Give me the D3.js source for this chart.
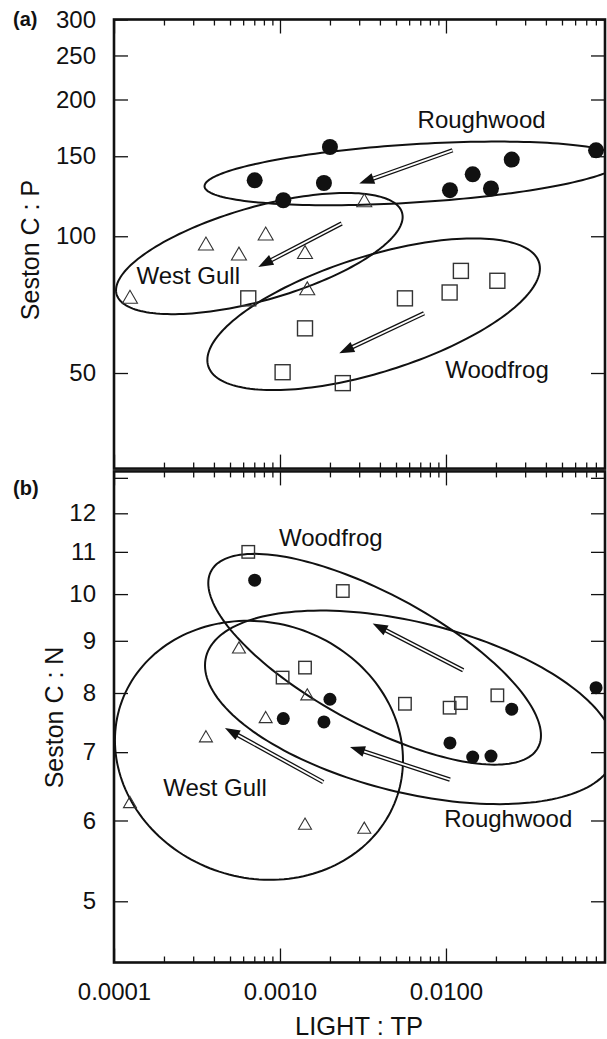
<!DOCTYPE html>
<html><head><meta charset="utf-8">
<script src="https://cdn.jsdelivr.net/npm/d3@7"></script>
<style>body{margin:0;background:#fff;}</style>
</head><body><script>
// ---------- data ----------
const lightRoughwood = [0.000704, 0.001047, 0.0020, 0.00184, 0.01057, 0.01449, 0.01867, 0.0249, 0.0802];
const cpRoughwood    = [132.8, 120.0, 157.2, 131.0, 126.3, 136.9, 127.4, 147.5, 154.6];
const cnRoughwood    = [10.32, 7.551, 7.888, 7.494, 7.147, 6.923, 6.939, 7.713, 8.097];

const lightWestGull = [0.0001248, 0.000358, 0.000566, 0.00082, 0.001415, 0.00146, 0.00322];
const cpWestGull    = [73.6, 96.4, 91.6, 101.4, 92.3, 76.8, 120.0];
const cnWestGull    = [6.255, 7.256, 8.866, 7.578, 5.957, 7.976, 5.903];

const lightWoodfrog = [0.000644, 0.001037, 0.001415, 0.00566, 0.01052, 0.0123, 0.0204, 0.00239];
const cpWoodfrog    = [73.0, 50.2, 62.7, 73.0, 75.2, 83.9, 79.8, 47.5];
const cnWoodfrog    = [11.00, 8.283, 8.472, 7.808, 7.739, 7.820, 7.958, 10.07];

// ellipses: [site, centre light, centre ratio, rightmost light, rightmost ratio, ratio straight above centre]
const ellipsesCP = [
  ["Roughwood", 0.006343, 137.5, 0.1146, 146.7, 159.4],
  ["West Gull", 0.000751, 91.6, 0.005483, 110.3, 117.0],
  ["Woodfrog", 0.003666, 67.35, 0.03681, 84.96, 91.5]
];
const ellipsesCN = [
  ["Roughwood", 0.006068, 7.745, 0.1042, 7.046, 9.430],
  ["West Gull", 0.000747, 7.030, 0.005508, 6.873, 9.408],
  ["Woodfrog", 0.003717, 8.633, 0.03736, 7.271, 10.177]
];
// arrows: [from light, from ratio, to light, to ratio]
const arrowsCP = [[0.01096, 154.6, 0.003003, 130.6], [0.002353, 106.7, 0.00074, 85.6], [0.007373, 67.65, 0.002276, 55.25]];
const arrowsCN = [[0.01270, 8.422, 0.003618, 9.359], [0.01057, 6.579, 0.002641, 7.084], [0.001823, 6.543, 0.000466, 7.392]];
// site labels: [text, light, ratio]
const labelsCP = [["Roughwood", 0.0164, 173.4], ["West Gull", 0.000280, 78.7], ["Woodfrog", 0.02029, 48.7]];
const labelsCN = [["Woodfrog", 0.002023, 11.145], ["Roughwood", 0.02373, 5.910], ["West Gull", 0.000406, 6.336]];

const xTickValues = [0.0001, 0.001, 0.01];
const xTickLabels = ["0.0001", "0.0010", "0.0100"];
const cpTicks = [50, 100, 150, 200, 250, 300];
const cnTicks = [5, 6, 7, 8, 9, 10, 11, 12, 13];
const cnTickLabels = ["5", "6", "7", "8", "9", "10", "11", "12", ""];

// ---------- drawing ----------
const FONT = '"Liberation Sans", Arial, Helvetica, sans-serif';
const INK = "#111";
const svg = d3.select("body").append("svg").attr("width", 607).attr("height", 1039).style("display", "block");
const X0 = 114, X1 = 605;
const x = d3.scaleLog().domain([1e-4, 0.0908]).range([X0, X1]);
const minorX = [];
[-4, -3, -2].forEach(k => d3.range(2, 10).forEach(m => { const v = m * Math.pow(10, k); if (v < 0.0905) minorX.push(v); }));

const panels = [
  { key: "a", top: 19.5, bottom: 468.6, y: d3.scaleLog().domain([30.8, 300]).range([468.6, 19.5]),
    r: [cpRoughwood, cpWestGull, cpWoodfrog], ticks: cpTicks, tickFmt: d => String(d),
    ellipses: ellipsesCP, arrows: arrowsCP, labels: labelsCP, circ: 8, sq: 15, tri: 15,
    letterY: 25.8, title: "Seston C : P", titleX: 39.3, titleY: 250 },
  { key: "b", top: 471.4, bottom: 962.5, y: d3.scaleLog().domain([4.355, 13.19]).range([962.5, 471.4]),
    r: [cnRoughwood, cnWestGull, cnWoodfrog], ticks: cnTicks, tickFmt: d => cnTickLabels[cnTicks.indexOf(d)],
    ellipses: ellipsesCN, arrows: arrowsCN, labels: labelsCN, circ: 6.5, sq: 12.5, tri: 13,
    letterY: 495, title: "Seston C : N", titleX: 62.7, titleY: 717.5 }
];

function styleAxis(s, fs) {
  s.select(".domain").remove();
  s.selectAll("line").attr("stroke", INK).attr("stroke-width", 1.3);
  s.attr("font-family", FONT).attr("font-size", fs);
  s.selectAll("text").attr("fill", INK);
}

panels.forEach((p, i) => {
  const y = p.y;
  const g = svg.append("g");
  const clipId = "clip" + p.key;
  svg.append("clipPath").attr("id", clipId).append("rect")
    .attr("x", X0).attr("y", p.top).attr("width", X1 - X0).attr("height", p.bottom - p.top);
  const plot = g.append("g").attr("clip-path", `url(#${clipId})`);

  // ellipses
  p.ellipses.forEach(e => {
    const [, cx, cy, rx, ry, ty] = e;
    const lcx = Math.log10(cx), lcy = Math.log10(cy);
    const px = Math.log10(rx) - lcx, py = Math.log10(ry) - lcy, qy = Math.log10(ty) - lcy;
    const pts = d3.range(0, 360, 2).map(a => {
      const t = a * Math.PI / 180;
      return [x(Math.pow(10, lcx + px * Math.cos(t))), y(Math.pow(10, lcy + py * Math.cos(t) + qy * Math.sin(t)))];
    });
    plot.append("path").attr("d", d3.line().curve(d3.curveLinearClosed)(pts))
      .attr("fill", "none").attr("stroke", INK).attr("stroke-width", 2);
  });

  // arrows (double shaft, solid head)
  p.arrows.forEach(a => {
    const x1 = x(a[0]), y1 = y(a[1]), x2 = x(a[2]), y2 = y(a[3]);
    const dx = x2 - x1, dy = y2 - y1, len = Math.hypot(dx, dy), ux = dx / len, uy = dy / len;
    const L = 15, hw = 5.5;
    const bx = x2 - ux * L, by = y2 - uy * L;
    plot.append("line").attr("x1", x1).attr("y1", y1).attr("x2", bx + ux * 2).attr("y2", by + uy * 2)
      .attr("stroke", INK).attr("stroke-width", 4.4);
    plot.append("line").attr("x1", x1).attr("y1", y1).attr("x2", bx + ux * 2).attr("y2", by + uy * 2)
      .attr("stroke", "#fff").attr("stroke-width", 1.8);
    plot.append("path").attr("d", `M${x2},${y2}L${bx - uy * hw},${by + ux * hw}L${bx + uy * hw},${by - ux * hw}Z`)
      .attr("fill", INK);
  });

  // points
  const [rR, rG, rF] = p.r;
  plot.selectAll("rect.sq").data(d3.zip(lightWoodfrog, rF)).join("rect").attr("class", "sq")
    .attr("x", d => x(d[0]) - p.sq / 2).attr("y", d => y(d[1]) - p.sq / 2)
    .attr("width", p.sq).attr("height", p.sq)
    .attr("fill", "none").attr("stroke", "#333").attr("stroke-width", 1.4);
  const tw = p.tri, th = p.tri * 0.86;
  plot.selectAll("path.tri").data(d3.zip(lightWestGull, rG)).join("path").attr("class", "tri")
    .attr("d", d => { const cx = x(d[0]), cy = y(d[1]);
      return `M${cx},${cy - th / 2}L${cx + tw / 2},${cy + th / 2}L${cx - tw / 2},${cy + th / 2}Z`; })
    .attr("fill", "none").attr("stroke", "#333").attr("stroke-width", 1.1);
  plot.selectAll("circle").data(d3.zip(lightRoughwood, rR)).join("circle")
    .attr("cx", d => x(d[0])).attr("cy", d => y(d[1])).attr("r", p.circ).attr("fill", INK);

  // site labels
  g.selectAll("text.site").data(p.labels).join("text").attr("class", "site")
    .attr("x", d => x(d[1])).attr("y", d => y(d[2])).attr("text-anchor", "middle")
    .attr("font-family", FONT).attr("font-size", 24).attr("fill", INK).text(d => d[0]);

  // axes with inward ticks
  g.append("g").attr("transform", `translate(${X0},0)`)
    .call(d3.axisLeft(y).tickValues(p.ticks).tickSize(-14).tickPadding(18).tickFormat(p.tickFmt))
    .call(s => styleAxis(s, 24));
  g.append("g").attr("transform", `translate(${X1},0)`)
    .call(d3.axisRight(y).tickValues(p.ticks).tickSize(-14).tickFormat(""))
    .call(s => styleAxis(s, 24));
  g.append("g").attr("transform", `translate(0,${p.top})`)
    .call(d3.axisTop(x).tickValues(xTickValues).tickSize(-14).tickFormat(""))
    .call(s => styleAxis(s, 24));
  g.append("g").attr("transform", `translate(0,${p.top})`)
    .call(d3.axisTop(x).tickValues(minorX).tickSize(-6).tickFormat(""))
    .call(s => styleAxis(s, 24));
  g.append("g").attr("transform", `translate(0,${p.bottom})`)
    .call(d3.axisBottom(x).tickValues(xTickValues).tickSize(-14).tickPadding(20.5)
      .tickFormat(i === 1 ? (d => xTickLabels[xTickValues.indexOf(d)]) : ""))
    .call(s => styleAxis(s, 24));
  g.append("g").attr("transform", `translate(0,${p.bottom})`)
    .call(d3.axisBottom(x).tickValues(minorX).tickSize(-6).tickFormat(""))
    .call(s => styleAxis(s, 24));

  // frame
  g.append("rect").attr("x", X0).attr("y", p.top).attr("width", X1 - X0).attr("height", p.bottom - p.top)
    .attr("fill", "none").attr("stroke", INK).attr("stroke-width", 2.6);

  // panel letter
  g.append("text").attr("x", 13).attr("y", p.letterY).attr("font-family", FONT).attr("font-weight", "bold")
    .attr("font-size", 20).attr("fill", INK).text(`(${p.key})`);

  // y title
  g.append("text").attr("transform", `translate(${p.titleX},${p.titleY}) rotate(-90)`)
    .attr("text-anchor", "middle").attr("font-family", FONT).attr("font-size", 25).attr("fill", INK)
    .text(p.title);
});

svg.append("text").attr("x", 359).attr("y", 1035).attr("text-anchor", "middle")
  .attr("font-family", FONT).attr("font-size", 25.5).attr("fill", INK).text("LIGHT : TP");
</script></body></html>
